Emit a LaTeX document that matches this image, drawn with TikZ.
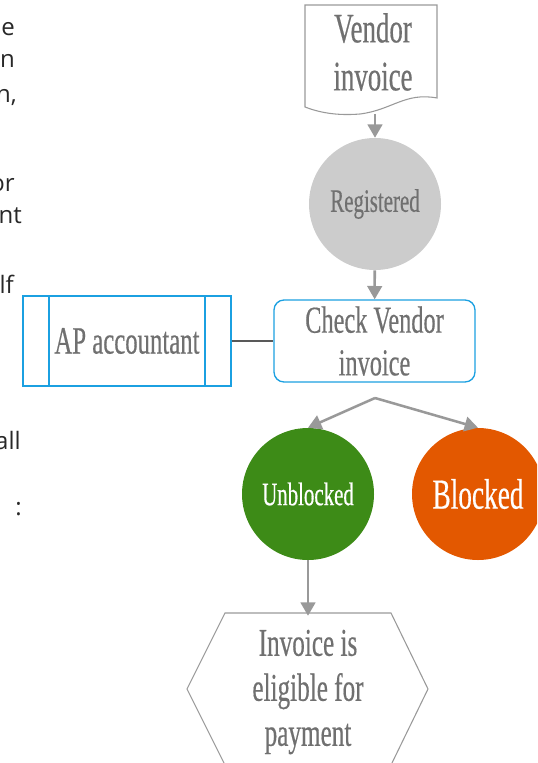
\documentclass[tikz,border=0pt]{standalone}
\usepackage{fontspec}
\setmainfont{Liberation Serif}
\newfontfamily\condfont[FakeStretch=0.64,FakeBold=0.4]{Liberation Serif}
\newfontfamily\notefont{Open Sans}
\usetikzlibrary{arrows.meta}

\definecolor{txtgray}{RGB}{112,112,112}
\definecolor{arrgray}{RGB}{153,153,153}
\definecolor{regfill}{RGB}{204,204,204}
\definecolor{boxblue}{RGB}{27,160,225}
\definecolor{okgreen}{RGB}{61,139,23}
\definecolor{stoporange}{RGB}{227,88,0}
\definecolor{notegray}{RGB}{40,40,40}

\newcommand{\cfs}[2]{\condfont\fontsize{#1}{#2}\selectfont}

\begin{document}
\begin{tikzpicture}[x=0.75pt, y=-0.75pt,
    flow/.style={-{Triangle[width=11pt,length=10pt]}, draw=arrgray, line width=1.9pt},
    txt/.style={text=txtgray, align=center, inner sep=0pt},
    state/.style={circle, minimum size=99pt, inner sep=0pt, align=center},
    bluebox/.style={draw=boxblue, line width=1pt},
    note/.style={anchor=base east, inner sep=0pt, text=notegray,
                 font=\notefont\fontsize{18}{21}\selectfont}]
    \useasboundingbox (0,0) rectangle (537,763);
    \clip (0,0) rectangle (537,763);

    % text running in from the left margin
    \node[note] (n1) at (15,36)  {e};
    \node[note] (n2) at (15,68)  {n};
    \node[note] (n3) at (17,103) {n,};
    \node[note] (n4) at (15,191) {or};
    \node[note] (n5) at (22,223) {nt};
    \node[note] (n6) at (14,293) {lf};
    \node[note] (n7) at (21,449) {all};
    \node[note] (n8) at (22,515) {:};

    % vendor invoice document
    \draw[arrgray, line width=0.8pt] (305,5) -- (437,5) -- (437,98)
        .. controls (405,92) and (392,110) .. (360,114)
        .. controls (335,116) and (318,112) .. (305,107) -- cycle;
    \node[txt, font=\cfs{31.5}{36}] (doc) at (373,52) {Vendor\\invoice};
    \coordinate (docend) at (375,114);

    \node[state, fill=regfill, txt, font=\cfs{24.5}{28}] (reg) at (375,204) {Registered};

    \node[bluebox, rounded corners=7.5pt, minimum width=150.75pt, minimum height=61.5pt,
          txt, font=\cfs{28.5}{32}] (chk) at (374.5,341) {Check Vendor\\invoice};

    \node[bluebox, minimum width=156pt, minimum height=67.5pt,
          txt, font=\cfs{29}{32}] (ap) at (127,341) {AP accountant};
    \draw[bluebox] (49,296) -- (49,386) (205,296) -- (205,386);

    \coordinate (br) at (375,398);

    \node[state, fill=okgreen, text=white, font=\cfs{24.5}{28}] (unb) at (308,494) {Unblocked};
    \node[state, fill=stoporange, text=white, font=\cfs{32}{36}] (blk) at (478,494) {Blocked};

    \node[txt, minimum height=114pt, font=\cfs{29.5}{33.75}] (hex) at (308,692)
        {Invoice is\\eligible for\\payment};
    \draw[arrgray, line width=0.8pt] (225,613) -- (391,613) -- (428,689) -- (391,765)
        -- (225,765) -- (187,689) -- cycle;

    % connectors
    \draw[flow] (docend) -- (reg);
    \draw[flow] (reg) -- (chk);
    \draw[draw=black!65, line width=0.8pt] (ap) -- (chk);
    \draw[flow] (br) -- (unb.north);
    \draw[flow] (br) -- (blk.north);
    \draw[flow] (unb) -- (hex);
\end{tikzpicture}
\end{document}
